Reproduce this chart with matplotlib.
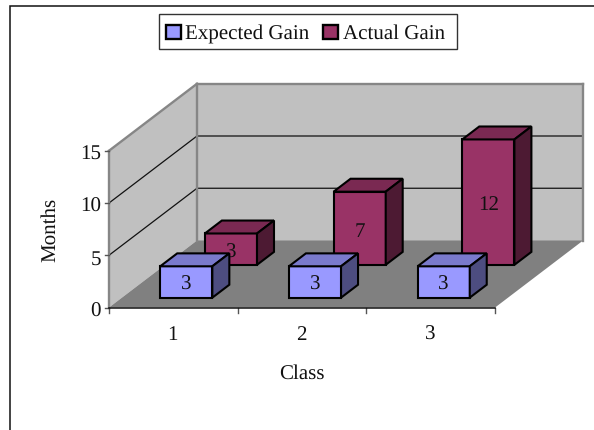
import matplotlib
matplotlib.use("Agg")
import matplotlib.pyplot as plt
from matplotlib.patches import Polygon, Rectangle

plt.rcParams["font.family"] = ["Liberation Serif", "DejaVu Serif"]
plt.rcParams["text.hinting"] = "no_hinting"
plt.rcParams["text.hinting_factor"] = 1

# Chart data
classes = ["1", "2", "3"]
series_names = ["Expected Gain", "Actual Gain"]
expected_gain = [3, 3, 3]
actual_gain = [3, 7, 12]
y_ticks = [0, 5, 10, 15]

# Colours
FACE = {"Expected Gain": ("#9999FF", "#7A7ACC", "#4D4D80"),
        "Actual Gain": ("#993366", "#7A2952", "#4D1A33")}
WALL = "#C0C0C0"
FLOOR = "#808080"
EDGE = "#868686"
TEXT = "#111111"
FONT = 15.2

# Oblique projection of the box: category along x, depth into the page, value upward
ORIGIN_X, ORIGIN_Y = 109.0, 308.5
CAT_STEP = 128.7
DEPTH_DX, DEPTH_DY = 88.0, -67.0
UNIT = 10.45
BAR_WIDTH = 0.405
DEPTH_SPANS = {"Expected Gain": (0.147, 0.34), "Actual Gain": (0.637, 0.83)}
ROW_SHIFT = {"Expected Gain": 0.0, "Actual Gain": 0.012}


def proj(cat, depth, value):
    return (ORIGIN_X + cat * CAT_STEP + depth * DEPTH_DX,
            ORIGIN_Y + depth * DEPTH_DY - value * UNIT)


def poly(ax, points, face, edge, lw, z):
    ax.add_patch(Polygon(points, closed=True, facecolor=face, edgecolor=edge,
                         linewidth=lw, joinstyle="miter", zorder=z))


fig = plt.figure(figsize=(5.94, 4.31), dpi=100)
ax = fig.add_axes([0, 0, 1, 1])
ax.set_xlim(0, 594)
ax.set_ylim(431, 0)
ax.axis("off")

# Chart area border, open at the right and bottom where the frame is cropped
ax.plot([10, 10, 594], [431, 6.5, 6.5], color="#111111", lw=1.1, zorder=1,
        solid_joinstyle="miter")

n_cats = len(classes)
top = y_ticks[-1]

# Side wall, back wall and floor
poly(ax, [proj(0, 0, 0), proj(0, 1, 0), proj(0, 1, top), proj(0, 0, top)], WALL, "none", 0, 2)
poly(ax, [proj(0, 1, 0), proj(n_cats, 1, 0), proj(n_cats, 1, top), proj(0, 1, top)], WALL, "none", 0, 2)
poly(ax, [proj(0, 0, 0), proj(n_cats, 0, 0), proj(n_cats, 1, 0), proj(0, 1, 0)], FLOOR, "none", 0, 2)

# Gridlines on both walls
for v in y_ticks[1:-1]:
    xs, ys = zip(proj(0, 0, v), proj(0, 1, v), proj(n_cats, 1, v))
    ax.plot(xs, ys, color="#111111", lw=0.9, zorder=3)

# Wall outlines
for a, b in [((0, 0, top), (0, 1, top)), ((0, 1, top), (n_cats, 1, top)),
             ((n_cats, 1, top), (n_cats, 1, 0)), ((0, 1, top), (0, 1, 0)),
             ((0, 0, 0), (0, 0, top))]:
    xs, ys = zip(proj(*a), proj(*b))
    ax.plot(xs, ys, color=EDGE, lw=1.7, zorder=3, solid_capstyle="projecting")


def draw_bar(cat_index, value, name, z):
    d0, d1 = DEPTH_SPANS[name]
    x0 = cat_index + (1 - BAR_WIDTH) / 2 + ROW_SHIFT[name]
    x1 = x0 + BAR_WIDTH
    front, topf, side = FACE[name]
    poly(ax, [proj(x0, d0, 0), proj(x1, d0, 0), proj(x1, d0, value), proj(x0, d0, value)], front, "black", 1.5, z)
    poly(ax, [proj(x0, d0, value), proj(x1, d0, value), proj(x1, d1, value), proj(x0, d1, value)], topf, "black", 1.5, z)
    poly(ax, [proj(x1, d0, 0), proj(x1, d1, 0), proj(x1, d1, value), proj(x1, d0, value)], side, "black", 1.5, z)
    cx, cy = proj((x0 + x1) / 2, d0, value / 2)
    ax.text(cx, cy, str(value), ha="center", va="center_baseline", fontsize=FONT,
            color=TEXT, zorder=z + 0.5)


# Rear series first so the front row overlaps it
for i, v in enumerate(actual_gain):
    draw_bar(i, v, "Actual Gain", 4 + i * 0.01)
for i, v in enumerate(expected_gain):
    draw_bar(i, v, "Expected Gain", 6 + i * 0.01)

# Value axis ticks and labels
for v in y_ticks:
    x, y = proj(0, 0, v)
    ax.plot([x - 4, x], [y, y], color="#555555", lw=1, zorder=3)
    ax.text(x - 8, y + 1, str(v), ha="right", va="center_baseline", fontsize=FONT, color=TEXT)

# Category axis, ticks and labels
xs, ys = zip(proj(0, 0, 0), proj(n_cats, 0, 0))
ax.plot(xs, ys, color="#111111", lw=1.1, zorder=7)
for i in range(n_cats + 1):
    x, y = proj(i, 0, 0)
    ax.plot([x, x], [y, y + 5], color="#555555", lw=1, zorder=3)
for i, label in enumerate(classes):
    x, y = proj(i + 0.5, 0, 0)
    ax.text(x - 0.5, y + 24, label, ha="center", va="center_baseline", fontsize=FONT, color=TEXT)

# Axis titles
ax.text(302, 372, "Class", ha="center", va="center_baseline", fontsize=FONT, color=TEXT)
ax.text(50, 230, "Months", ha="center", va="center", rotation=90, fontsize=FONT, color=TEXT)

# Legend
ax.add_patch(Rectangle((158.5, 14.5), 298, 35, facecolor="white", edgecolor="#333333", lw=1, zorder=8))
for name, sx, tx in [("Expected Gain", 166, 185), ("Actual Gain", 323, 343)]:
    ax.add_patch(Rectangle((sx, 25.5), 14.5, 14.5, facecolor=FACE[name][0], edgecolor="black", lw=1.7, zorder=9))
    ax.text(tx, 32, name, ha="left", va="center_baseline", fontsize=FONT, color=TEXT, zorder=9)

fig.savefig("out.png", dpi=100)
